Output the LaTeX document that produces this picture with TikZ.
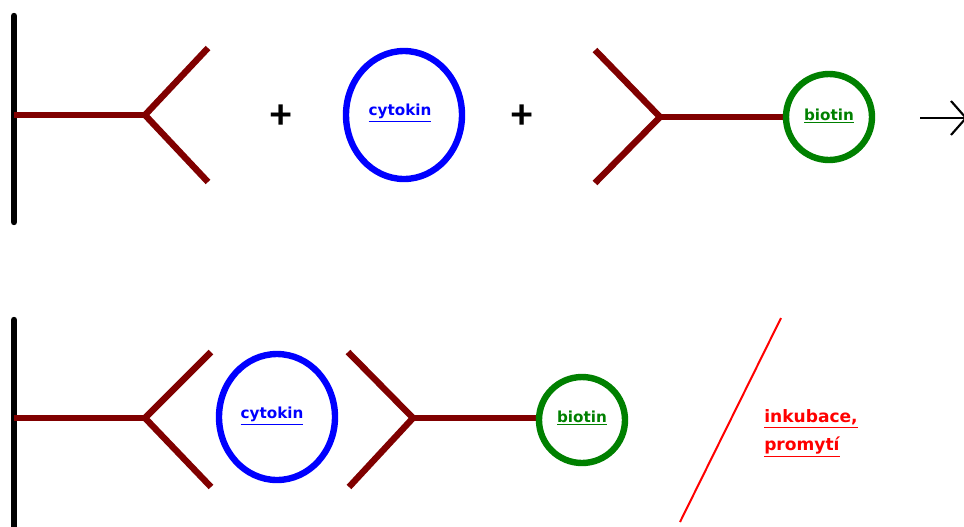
\documentclass[tikz,border=0pt]{standalone}
\usepackage{fontspec}
\setmainfont{Carlito}
\newfontfamily\lblfont{DejaVu Sans}[Ligatures=NoCommon]
\definecolor{abred}{RGB}{128,0,0}
\definecolor{cytblue}{RGB}{0,0,255}
\definecolor{biogreen}{RGB}{0,128,0}
\begin{document}
\begin{tikzpicture}[x=0.75pt,y=-0.75pt,
  plate/.style={line width=4.8pt,black,line cap=round},
  ab/.style={line width=4.8pt,abred},
  ring/.style={line width=4.8pt},
  lbl/.style={font=\lblfont\bfseries\fontsize{11.4}{13}\selectfont,inner sep=0pt},
  redlbl/.style={font=\lblfont\bfseries\fontsize{12.8}{14}\selectfont,inner sep=0pt,text=red,anchor=west},
  plus/.style={font=\bfseries\fontsize{32}{32}\selectfont,inner sep=0pt}]
\useasboundingbox (0,0) rectangle (964,526);
% ---------- top row ----------
\coordinate (p1a) at (14,16);
\coordinate (p1b) at (14,222);
\draw[plate] (p1a) -- (p1b);
\coordinate (a1base) at (14,115);
\coordinate (a1fork) at (145,115);
\coordinate (a1up) at (208,48);
\coordinate (a1dn) at (208,182);
\draw[ab] (a1base) -- (a1fork);
\draw[ab] (a1up) -- (a1fork) -- (a1dn);
\node[plus] (plus1) at (281,117) {+};
\draw[cytblue,ring] (404,115) ellipse [x radius=58,y radius=64];
\node[lbl,text=cytblue] (cyt1) at (400,113) {\underline{cytokin}};
\node[plus] (plus2) at (522,117) {+};
\coordinate (a2up) at (595,50);
\coordinate (a2dn) at (595,183);
\coordinate (a2fork) at (660,117);
\coordinate (a2end) at (785,117);
\draw[ab] (a2up) -- (a2fork) -- (a2dn);
\draw[ab] (a2fork) -- (a2end);
\draw[biogreen,ring] (829,117) circle [radius=43];
\node[lbl,text=biogreen] (bio1) at (829,116) {\underline{biotin}};
\coordinate (arrS) at (920,118);
\coordinate (arrE) at (966,118);
\coordinate (arrT) at (951,101);
\coordinate (arrB) at (951,135);
\draw[black,line width=1.6pt] (arrS) -- (arrE);
\draw[black,line width=1.6pt] (arrT) -- (arrE) -- (arrB);
% ---------- bottom row ----------
\coordinate (p2a) at (14,320);
\coordinate (p2b) at (14,530);
\draw[plate] (p2a) -- (p2b);
\coordinate (b1base) at (14,418);
\coordinate (b1fork) at (145,418);
\coordinate (b1up) at (211,352);
\coordinate (b1dn) at (211,487);
\draw[ab] (b1base) -- (b1fork);
\draw[ab] (b1up) -- (b1fork) -- (b1dn);
\draw[cytblue,ring] (277,417) ellipse [x radius=58,y radius=63];
\node[lbl,text=cytblue] (cyt2) at (272,416) {\underline{cytokin}};
\coordinate (b2up) at (348,352);
\coordinate (b2dn) at (349,487);
\coordinate (b2fork) at (413,418);
\coordinate (b2end) at (538,418);
\draw[ab] (b2up) -- (b2fork) -- (b2dn);
\draw[ab] (b2fork) -- (b2end);
\draw[biogreen,ring] (582,420) circle [radius=43];
\node[lbl,text=biogreen] (bio2) at (582,418) {\underline{biotin}};
\coordinate (sl1) at (781,318);
\coordinate (sl2) at (680,522);
\draw[red,line width=1.5pt] (sl1) -- (sl2);
\node[redlbl] (ink) at (764,419) {\underline{inkubace,}};
\node[redlbl] (pro) at (764,447) {\underline{promytí}};
\end{tikzpicture}
\end{document}
